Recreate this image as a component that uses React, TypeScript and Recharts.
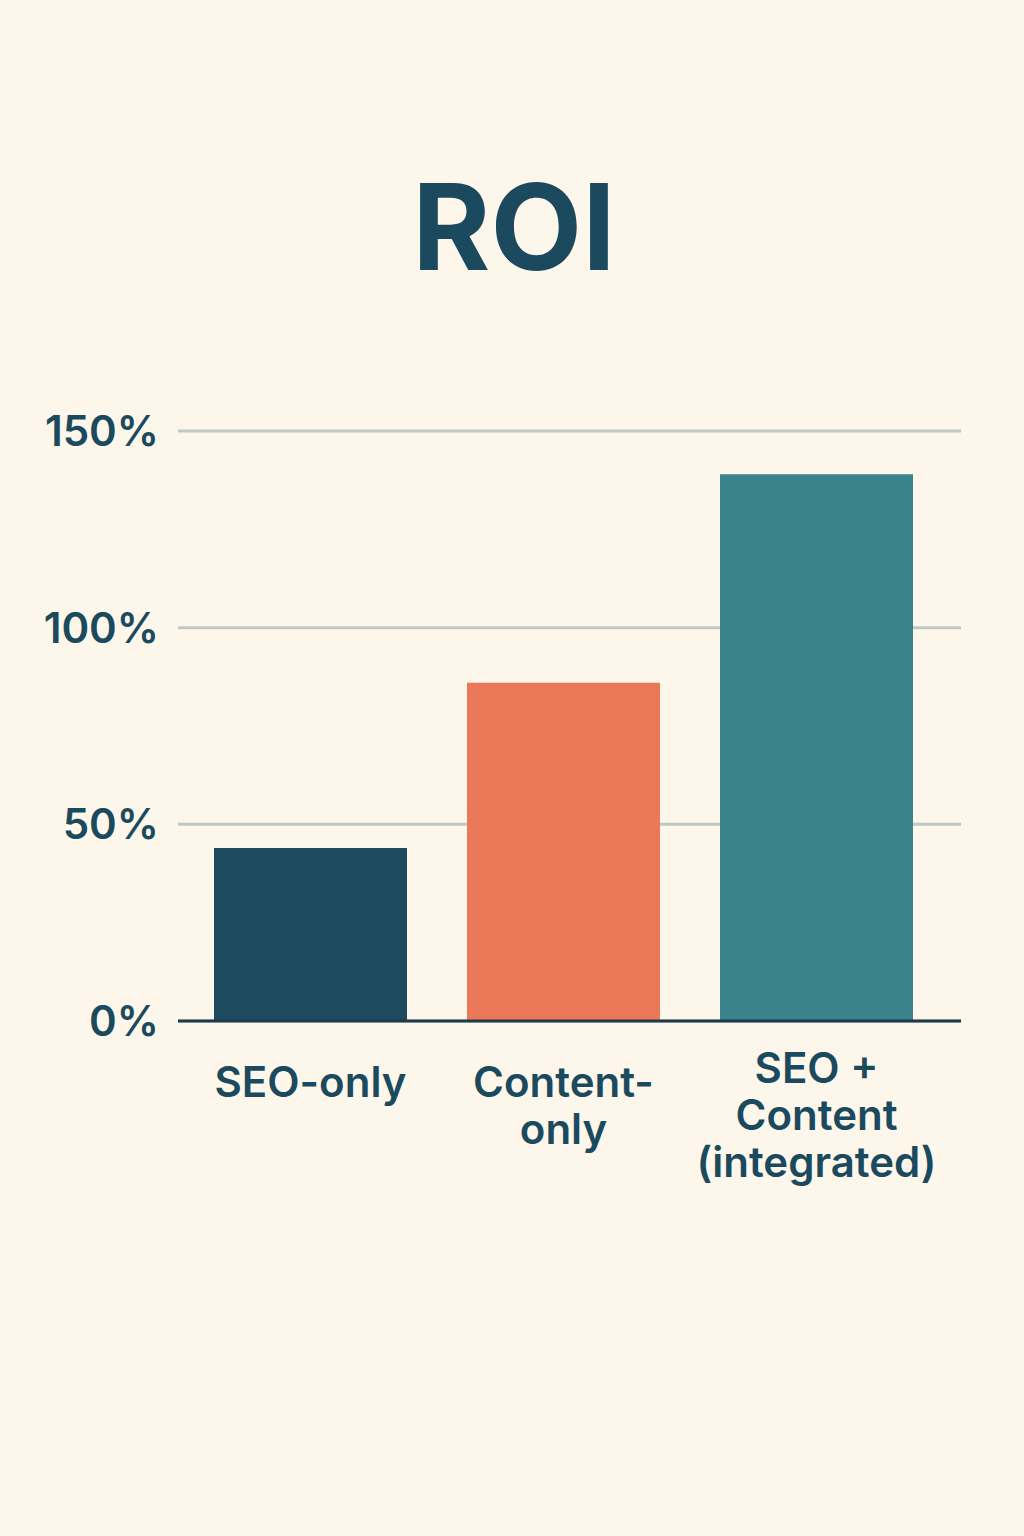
import { Bar, BarChart, CartesianGrid, Cell, XAxis, YAxis } from "recharts";

const categories = ["SEO-only", "Content-only", "SEO + Content (integrated)"];
const labelLines = [["SEO-only"], ["Content-", "only"], ["SEO +", "Content", "(integrated)"]];
const roi = [44, 86, 139];
const yTicks = [0, 50, 100, 150];
const barColors = ["#1D4A5E", "#EC785A", "#3A828C"];

const INK = "#1B4A5E";
const BG = "#FDF6EA";
const FONT = "Inter, 'Noto Sans', sans-serif";

const data = categories.map((name, i) => ({ name, roi: roi[i], lines: labelLines[i] }));

function CategoryTick({ x, y, index }: any) {
  const lines = labelLines[index] ?? [];
  const first = y + (lines.length > 2 ? 62 : 76);
  return (
    <text x={x} y={first} textAnchor="middle" fill={INK} fontSize={42} fontWeight={600} fontFamily={FONT}>
      {lines.map((l, i) => (
        <tspan key={i} x={x} y={first + i * 47}>{l}</tspan>
      ))}
    </text>
  );
}

export default function App() {
  return (
    <div style={{ position: "absolute", top: 0, left: 0, width: 1024, height: 1536, background: BG }}>
      <svg width={1024} height={300} style={{ position: "absolute", top: 0, left: 0 }}>
        <text x={514} y={270} textAnchor="middle" fill={INK} fontSize={119} fontWeight={700} fontFamily={FONT}>ROI</text>
      </svg>
      <div style={{ position: "absolute", top: 0, left: 0 }}>
        <BarChart width={1024} height={1536} data={data} margin={{ top: 431, right: 63, left: 0, bottom: 315 }}>
          <CartesianGrid vertical={false} stroke="#BFC8C3" strokeWidth={3} />
          <XAxis dataKey="name" interval={0} height={200} tickLine={false} tickSize={0} tickMargin={0}
            padding={{ left: 6, right: 18 }} axisLine={{ stroke: "#1B3A4A", strokeWidth: 3 }} tick={<CategoryTick />} />
          <YAxis width={178} domain={[0, 150]} ticks={yTicks} axisLine={false} tickLine={false} tickSize={0} tickMargin={19}
            tickFormatter={(v: number) => `${v}%`} tick={{ fill: INK, fontSize: 42, fontWeight: 600, fontFamily: FONT }} />
          <Bar dataKey="roi" barSize={193} isAnimationActive={false}>
            {data.map((d, i) => <Cell key={d.name} fill={barColors[i]} />)}
          </Bar>
        </BarChart>
      </div>
    </div>
  );
}
